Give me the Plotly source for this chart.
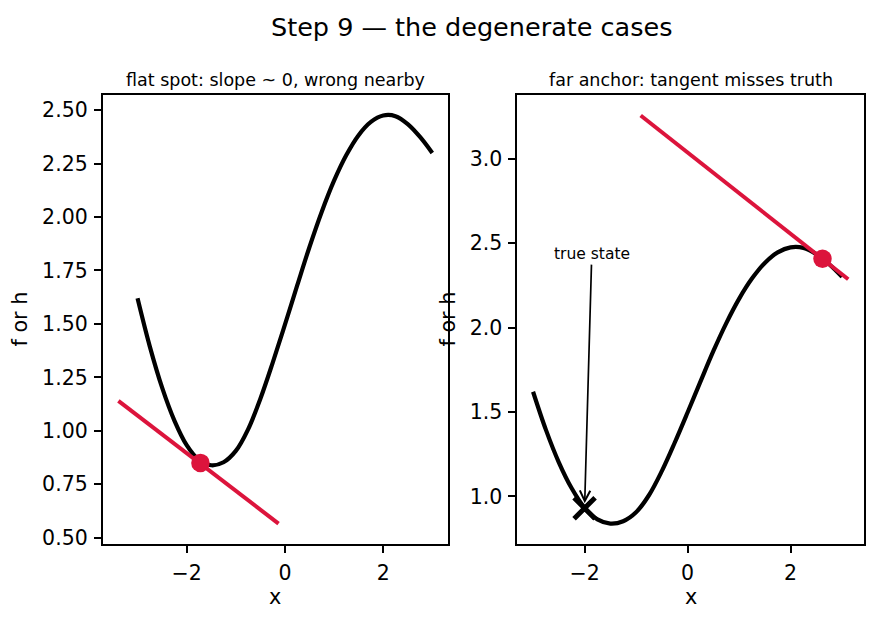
import plotly.graph_objects as go

# ---- data ----
curve_x = [-3.0, -2.75, -2.5, -2.25, -2.0, -1.75, -1.5, -1.25, -1.0, -0.75, -0.5, -0.25,
           0.0, 0.25, 0.5, 0.75, 1.0, 1.25, 1.5, 1.75, 2.0, 2.25, 2.5, 2.75, 3.0]
curve_y = [1.62, 1.394, 1.202, 1.048, 0.933, 0.864, 0.839, 0.853, 0.906, 1.007, 1.150, 1.318,
           1.497, 1.680, 1.860, 2.025, 2.170, 2.290, 2.383, 2.445, 2.475, 2.472, 2.435, 2.375, 2.300]

tan1_x = [-3.39, -0.13]
tan1_y = [1.14, 0.566]
anchor1_x = [-1.72]
anchor1_y = [0.85]

tan2_x = [-0.91, 3.12]
tan2_y = [3.256, 2.286]
anchor2_x = [2.62]
anchor2_y = [2.408]

true_x = [-2.0]
true_y = [0.93]
true_label = "true state"
true_label_pos = (-1.86, 2.435)

left_yticks = [0.50, 0.75, 1.00, 1.25, 1.50, 1.75, 2.00, 2.25, 2.50]
right_yticks = [1.0, 1.5, 2.0, 2.5, 3.0]
xticks = [-2, 0, 2]

title = "Step 9 — the degenerate cases"
sub1 = "flat spot: slope ~ 0, wrong nearby"
sub2 = "far anchor: tangent misses truth"

W, H = 876, 624
FONT = "DejaVu Sans"
RED = "#DC143C"


def mpl_range(vals):
    lo, hi = min(vals), max(vals)
    m = (hi - lo) * 0.05
    return [lo - m, hi + m]


fig = go.Figure()

curve_line = dict(color="black", width=4.2, shape="spline", smoothing=1.0)

# left panel
fig.add_trace(go.Scatter(x=curve_x, y=curve_y, mode="lines", line=curve_line,
                         xaxis="x", yaxis="y", showlegend=False))
fig.add_trace(go.Scatter(x=tan1_x, y=tan1_y, mode="lines", line=dict(color=RED, width=4),
                         xaxis="x", yaxis="y", showlegend=False))
fig.add_trace(go.Scatter(x=anchor1_x, y=anchor1_y, mode="markers", marker=dict(color=RED, size=18.5),
                         xaxis="x", yaxis="y", showlegend=False))

# right panel
fig.add_trace(go.Scatter(x=curve_x, y=curve_y, mode="lines", line=curve_line,
                         xaxis="x2", yaxis="y2", showlegend=False))
fig.add_trace(go.Scatter(x=tan2_x, y=tan2_y, mode="lines", line=dict(color=RED, width=4),
                         xaxis="x2", yaxis="y2", showlegend=False))
fig.add_trace(go.Scatter(x=anchor2_x, y=anchor2_y, mode="markers", marker=dict(color=RED, size=18.5),
                         xaxis="x2", yaxis="y2", showlegend=False))
fig.add_trace(go.Scatter(x=true_x, y=true_y, mode="markers",
                         marker=dict(symbol="x-thin", size=21, line=dict(color="black", width=5)),
                         xaxis="x2", yaxis="y2", showlegend=False))

axis_common = dict(showline=True, mirror=True, linecolor="black", linewidth=1.7,
                   ticks="outside", ticklen=7, tickwidth=1.7, tickcolor="black",
                   showgrid=False, zeroline=False,
                   tickfont=dict(family=FONT, size=20.5, color="black"))

lx0, lx1 = 102.7 / W, 448 / W
rx0, rx1 = 517.3 / W, 864 / W
y0, y1 = 1 - 549.3 / H, 1 - 96 / H

fig.update_layout(
    width=W, height=H,
    margin=dict(l=0, r=0, t=0, b=0),
    paper_bgcolor="white", plot_bgcolor="white",
    xaxis=dict(domain=[lx0, lx1], anchor="y", range=mpl_range(curve_x + tan1_x),
               tickvals=xticks, ticklabelstandoff=3, **axis_common),
    yaxis=dict(domain=[y0, y1], anchor="x", range=mpl_range(curve_y + tan1_y),
               tickvals=left_yticks, tickformat=".2f", ticklabelstandoff=2, **axis_common),
    xaxis2=dict(domain=[rx0, rx1], anchor="y2", range=mpl_range(curve_x + tan2_x),
                tickvals=xticks, ticklabelstandoff=3, **axis_common),
    yaxis2=dict(domain=[y0, y1], anchor="x2", range=mpl_range(curve_y + tan2_y),
                tickvals=right_yticks, tickformat=".1f", ticklabelstandoff=2, **axis_common),
)

ann = []
ann.append(dict(text=title, x=471 / W, y=1 - 27 / H, xref="paper", yref="paper",
                showarrow=False, xanchor="center", yanchor="middle",
                font=dict(family=FONT, size=25.5, color="black")))
ann.append(dict(text=sub1, x=(lx0 + lx1) / 2, y=1 - 80.5 / H, xref="paper", yref="paper",
                showarrow=False, xanchor="center", yanchor="middle",
                font=dict(family=FONT, size=17.5, color="black")))
ann.append(dict(text=sub2, x=(rx0 + rx1) / 2, y=1 - 80.5 / H, xref="paper", yref="paper",
                showarrow=False, xanchor="center", yanchor="middle",
                font=dict(family=FONT, size=17.5, color="black")))
for cx in [(lx0 + lx1) / 2, (rx0 + rx1) / 2]:
    ann.append(dict(text="x", x=cx, y=1 - 603 / H, xref="paper", yref="paper",
                    showarrow=False, xanchor="center", yanchor="middle",
                    font=dict(family=FONT, size=20.8, color="black")))
for px in [20, 448]:
    ann.append(dict(text="f or h", x=px / W, y=(y0 + y1) / 2, xref="paper", yref="paper",
                    showarrow=False, xanchor="center", yanchor="middle", textangle=-90,
                    font=dict(family=FONT, size=20.8, color="black")))
ann.append(dict(text=true_label, x=true_x[0], y=true_y[0], xref="x2", yref="y2",
                ax=true_label_pos[0], ay=true_label_pos[1], axref="x2", ayref="y2",
                showarrow=True, arrowhead=5, arrowsize=1.2, arrowwidth=1.7, arrowcolor="black",
                standoff=5,
                font=dict(family=FONT, size=15.5, color="black")))
fig.update_layout(annotations=ann)

fig.write_html("out.html")
